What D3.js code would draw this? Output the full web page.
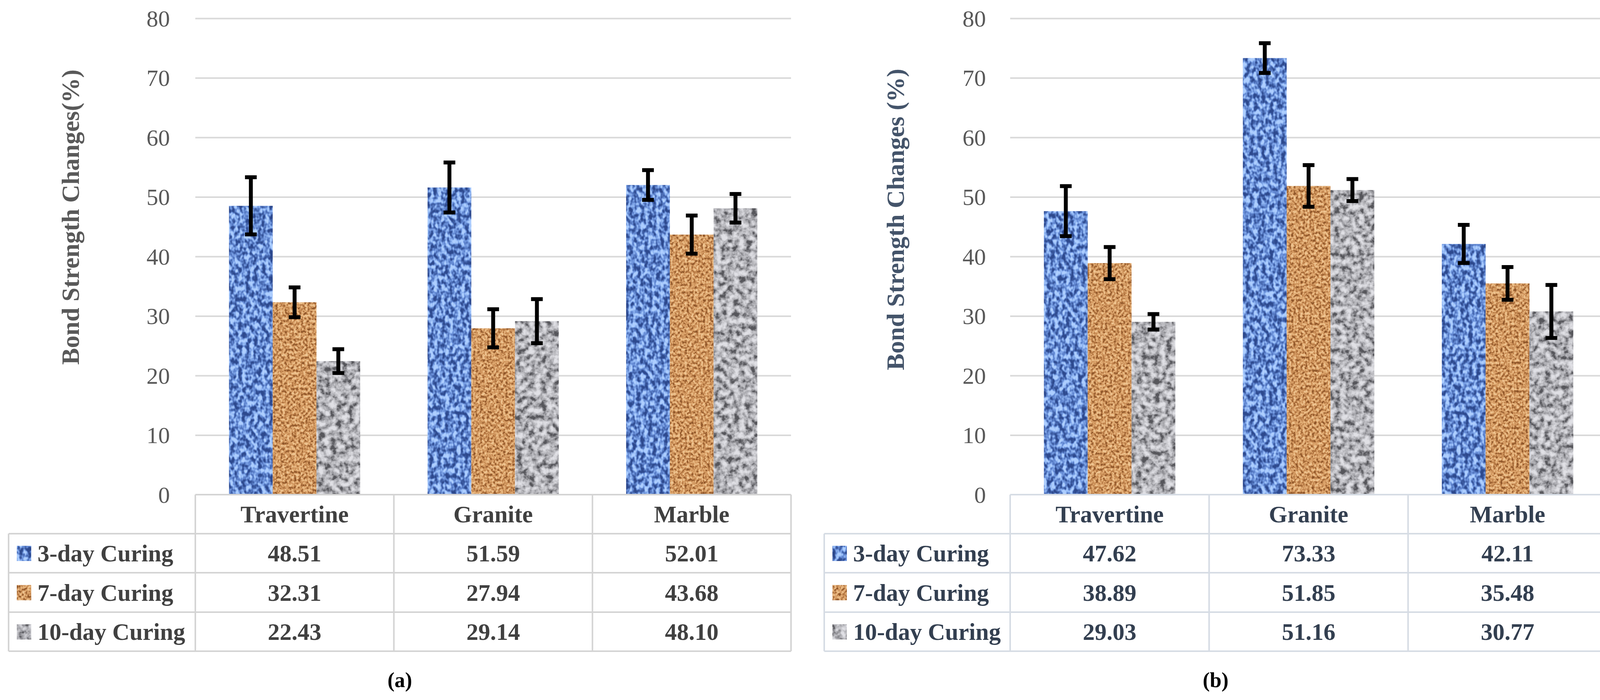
<!DOCTYPE html>
<html><head><meta charset="utf-8">
<script src="https://cdn.jsdelivr.net/npm/d3@7"></script>
<style>body{margin:0;background:#fff}</style>
</head><body>
<svg id="chart" width="4135" height="1793"></svg>
<script>
// ---------------- data ----------------
const categories = ["Travertine", "Granite", "Marble"];
const series = ["3-day Curing", "7-day Curing", "10-day Curing"];
const yTicks = [0, 10, 20, 30, 40, 50, 60, 70, 80];
// panel (a)
const valuesA = [[48.51, 51.59, 52.01], [32.31, 27.94, 43.68], [22.43, 29.14, 48.10]];
const errorsA = [[4.8, 4.2, 2.5], [2.5, 3.2, 3.2], [2.0, 3.7, 2.4]];
// panel (b)
const valuesB = [[47.62, 73.33, 42.11], [38.89, 51.85, 35.48], [29.03, 51.16, 30.77]];
const errorsB = [[4.2, 2.5, 3.2], [2.7, 3.5, 2.75], [1.3, 1.85, 4.45]];
const panelLabels = ["(a)", "(b)"];
const yTitles = ["Bond Strength Changes(%)", "Bond Strength Changes (%)"];

// ---------------- layout ----------------
const svg = d3.select("#chart");
const W = 4135, H = 1793;
svg.append("rect").attr("width", W).attr("height", H).attr("fill", "#fff");

const SERIF = "'Liberation Serif','Times New Roman',serif";
const y = d3.scaleLinear().domain([0, 80]).range([1267, 47]);
const rowTops = [1267, 1367, 1467, 1568, 1668];

// textures
const defs = svg.append("defs");
const textures = [
  {id: "tex0", freq: "0.10 0.075", oct: 2, seed: 3, k: 2.6,
   r: "0.18 0.27 0.40 0.56 0.68", g: "0.29 0.40 0.55 0.71 0.81", b: "0.56 0.68 0.84 0.95 1.0"},
  {id: "tex1", freq: "0.17 0.15", oct: 2, seed: 11, k: 2.2,
   r: "0.55 0.72 0.83 0.90 0.94", g: "0.33 0.48 0.60 0.70 0.78", b: "0.16 0.27 0.38 0.48 0.58"},
  {id: "tex2", freq: "0.065 0.065", oct: 3, seed: 5, k: 2.2,
   r: "0.34 0.56 0.71 0.81 0.88", g: "0.34 0.56 0.71 0.81 0.88", b: "0.36 0.58 0.73 0.83 0.90"}
];
textures.forEach(t => {
  const f = defs.append("filter").attr("id", t.id)
    .attr("x", 0).attr("y", 0).attr("width", 1).attr("height", 1)
    .attr("color-interpolation-filters", "sRGB");
  f.append("feTurbulence").attr("type", "fractalNoise").attr("baseFrequency", t.freq)
    .attr("numOctaves", t.oct).attr("seed", t.seed).attr("result", "n");
  const off = 0.5 - t.k / 2;
  f.append("feColorMatrix").attr("in", "n").attr("type", "matrix")
    .attr("values", `${t.k} 0 0 0 ${off}  ${t.k} 0 0 0 ${off}  ${t.k} 0 0 0 ${off}  0 0 0 0 1`).attr("result", "s");
  const ct = f.append("feComponentTransfer").attr("in", "s").attr("result", "c");
  ct.append("feFuncR").attr("type", "table").attr("tableValues", t.r);
  ct.append("feFuncG").attr("type", "table").attr("tableValues", t.g);
  ct.append("feFuncB").attr("type", "table").attr("tableValues", t.b);
  f.append("feComposite").attr("in", "c").attr("in2", "SourceGraphic").attr("operator", "in");
});

const panels = [
  {values: valuesA, errors: errorsA, title: yTitles[0], label: panelLabels[0],
   legendX0: 22, plotX0: 500, plotX1: 2025, tickRight: 435, titleX: 180, titleY: 556,
   titleColor: "#595959", tickColor: "#595959", textColor: "#404040", border: "#d4d4d4"},
  {values: valuesB, errors: errorsB, title: yTitles[1], label: panelLabels[1],
   legendX0: 2110, plotX0: 2586, plotX1: 4114, tickRight: 2524, titleX: 2292, titleY: 562,
   titleColor: "#44546A", tickColor: "#595959", textColor: "#333F50", border: "#d6dce4"}
];

panels.forEach(p => {
  const g = svg.append("g");
  const x0 = d3.scaleBand().domain(categories).range([p.plotX0, p.plotX1]).paddingInner(0).paddingOuter(0);
  const x1 = d3.scaleBand().domain(series).range([0, x0.bandwidth()]).paddingInner(0).paddingOuter(0.77);

  // gridlines
  g.append("g").attr("transform", `translate(${p.plotX0},0)`)
    .call(d3.axisLeft(y).tickValues(yTicks.filter(t => t > 0)).tickSize(-(p.plotX1 - p.plotX0)).tickFormat(""))
    .call(a => a.select(".domain").remove())
    .call(a => a.selectAll("line").attr("stroke", "#d9d9d9").attr("stroke-width", 4));

  // tick labels
  g.append("g").attr("transform", `translate(${p.plotX0},0)`)
    .call(d3.axisLeft(y).tickValues(yTicks).tickSize(0).tickPadding(p.plotX0 - p.tickRight))
    .call(a => a.select(".domain").remove())
    .call(a => a.selectAll("text").attr("font-family", SERIF).attr("font-size", 60)
      .attr("fill", p.tickColor).attr("dy", "0.34em"));

  // y title
  g.append("text").attr("transform", `translate(${p.titleX},${p.titleY}) rotate(-90)`)
    .attr("text-anchor", "middle").attr("dy", "0.35em")
    .attr("font-family", SERIF).attr("font-size", 64).attr("font-weight", "bold")
    .attr("fill", p.titleColor).text(p.title);

  // bars
  const flat = [];
  series.forEach((s, j) => categories.forEach((c, i) => flat.push({s, j, c, i, v: p.values[j][i], e: p.errors[j][i]})));
  g.append("g").selectAll("rect").data(flat).join("rect")
    .attr("x", d => x0(d.c) + x1(d.s)).attr("width", x1.bandwidth())
    .attr("y", d => y(d.v)).attr("height", d => y(0) - y(d.v))
    .attr("fill", "#000").attr("filter", d => `url(#tex${d.j})`);

  // error bars
  const eb = g.append("g").selectAll("g").data(flat).join("g")
    .attr("transform", d => `translate(${x0(d.c) + x1(d.s) + x1.bandwidth() / 2},0)`);
  eb.append("line").attr("x1", 0).attr("x2", 0)
    .attr("y1", d => y(d.v + d.e)).attr("y2", d => y(d.v - d.e))
    .attr("stroke", "#000").attr("stroke-width", 10);
  eb.append("line").attr("x1", -15).attr("x2", 15)
    .attr("y1", d => y(d.v + d.e)).attr("y2", d => y(d.v + d.e))
    .attr("stroke", "#000").attr("stroke-width", 10);
  eb.append("line").attr("x1", -15).attr("x2", 15)
    .attr("y1", d => y(d.v - d.e)).attr("y2", d => y(d.v - d.e))
    .attr("stroke", "#000").attr("stroke-width", 10);

  // data table
  const tb = g.append("g").attr("stroke", p.border).attr("stroke-width", 4);
  tb.append("line").attr("x1", p.plotX0).attr("x2", p.plotX1).attr("y1", rowTops[0]).attr("y2", rowTops[0]);
  rowTops.slice(1).forEach(r => tb.append("line").attr("x1", p.legendX0).attr("x2", p.plotX1).attr("y1", r).attr("y2", r));
  tb.append("line").attr("x1", p.legendX0).attr("x2", p.legendX0).attr("y1", rowTops[1]).attr("y2", rowTops[4]);
  const cols = categories.map(c => x0(c)).concat([p.plotX1]);
  cols.forEach(cx => tb.append("line").attr("x1", cx).attr("x2", cx).attr("y1", rowTops[0]).attr("y2", rowTops[4]));

  const txt = g.append("g").attr("font-family", SERIF).attr("font-size", 61)
    .attr("font-weight", "bold").attr("fill", p.textColor);
  categories.forEach(c => txt.append("text").attr("x", x0(c) + x0.bandwidth() / 2)
    .attr("y", (rowTops[0] + rowTops[1]) / 2).attr("dy", "0.35em").attr("text-anchor", "middle").text(c));
  series.forEach((s, j) => {
    const cy = (rowTops[j + 1] + rowTops[j + 2]) / 2;
    g.append("rect").attr("x", p.legendX0 + 21).attr("y", cy - 19).attr("width", 37).attr("height", 39)
      .attr("fill", "#000").attr("filter", `url(#tex${j})`);
    txt.append("text").attr("x", p.legendX0 + 74).attr("y", cy).attr("dy", "0.35em").text(s);
    categories.forEach((c, i) => txt.append("text").attr("x", x0(c) + x0.bandwidth() / 2)
      .attr("y", cy).attr("dy", "0.35em").attr("text-anchor", "middle").text(p.values[j][i].toFixed(2)));
  });

  // panel label
  svg.append("text").attr("x", (p.legendX0 + p.plotX1) / 2).attr("y", 1760)
    .attr("text-anchor", "middle").attr("font-family", SERIF).attr("font-size", 54)
    .attr("font-weight", "bold").attr("fill", "#000").text(p.label);
});
</script>
</body></html>
